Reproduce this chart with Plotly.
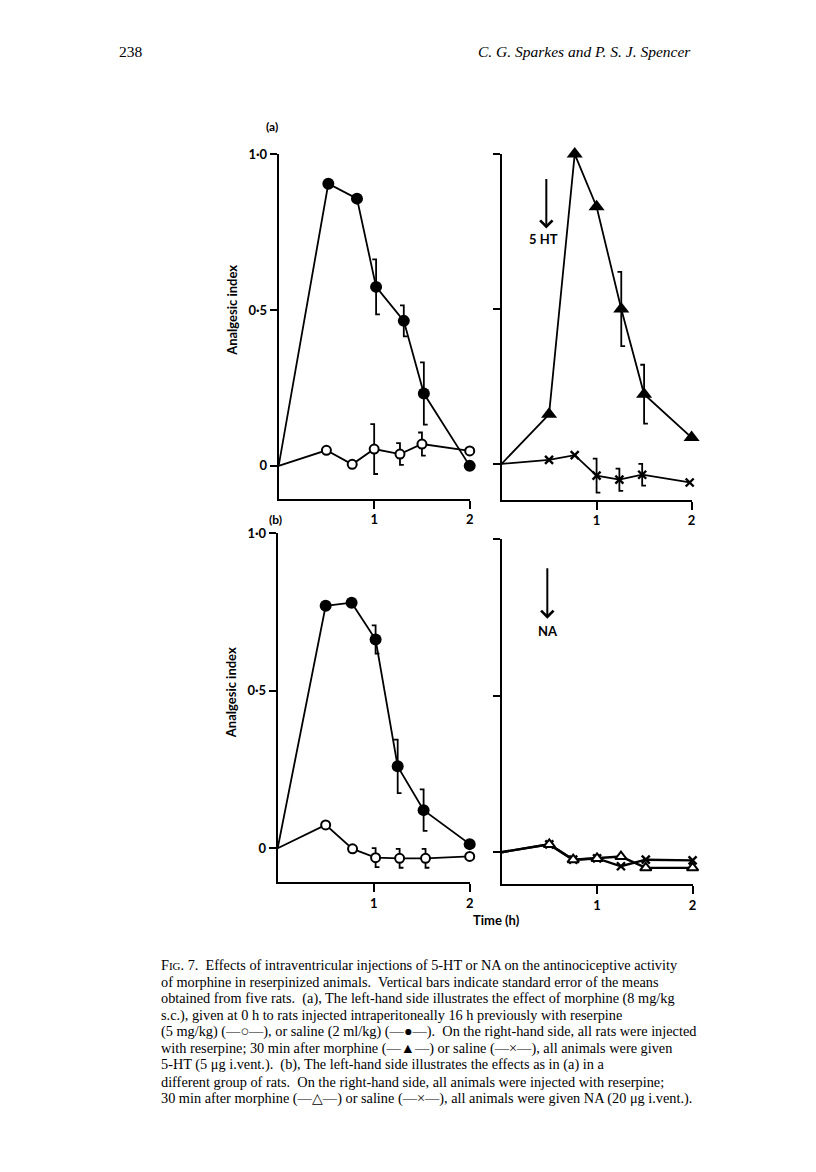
import plotly.graph_objects as go

# ---- data ----
# (a) left: morphine after reserpine (open circles) or saline (filled circles)
t_a_reserpine = [0, 0.5, 0.77, 1.0, 1.27, 1.5, 2.0]
ai_a_reserpine = [0, 0.05, 0.005, 0.054, 0.038, 0.07, 0.048]
se_a_reserpine = [0, 0, 0, 0.08, 0.035, 0.037, 0]

t_a_saline = [0, 0.52, 0.82, 1.02, 1.31, 1.52, 2.0]
ai_a_saline = [0, 0.905, 0.857, 0.574, 0.465, 0.232, 0.0]
se_a_saline = [0, 0, 0, 0.088, 0.05, 0.1, 0]

# (a) right: 5-HT after morphine (filled triangles) or saline (crosses)
t_a_5ht_morph = [0, 0.5, 0.77, 1.0, 1.26, 1.5, 2.0]
ai_a_5ht_morph = [0, 0.16, 1.0, 0.83, 0.5, 0.225, 0.085]
se_a_5ht_morph = [0, 0, 0, 0, 0.12, 0.095, 0]

t_a_5ht_saline = [0, 0.5, 0.77, 1.0, 1.24, 1.48, 1.98]
ai_a_5ht_saline = [0, 0.013, 0.028, -0.038, -0.051, -0.035, -0.06]
se_a_5ht_saline = [0, 0, 0, 0.055, 0.036, 0.035, 0]

# (b) left
t_b_reserpine = [0, 0.5, 0.78, 1.02, 1.27, 1.54, 2.0]
ai_b_reserpine = [0, 0.074, -0.002, -0.03, -0.032, -0.032, -0.026]
se_b_reserpine = [0, 0, 0, 0.03, 0.03, 0.03, 0]

t_b_saline = [0, 0.5, 0.77, 1.02, 1.25, 1.52, 2.0]
ai_b_saline = [0, 0.77, 0.78, 0.663, 0.26, 0.121, 0.013]
se_b_saline = [0, 0, 0, 0.045, 0.085, 0.066, 0]

# (b) right: NA after morphine (open triangles) or saline (crosses)
t_b_na = [0, 0.5, 0.75, 1.0, 1.25, 1.51, 2.0]
ai_b_na_morph = [0, 0.025, -0.024, -0.02, -0.014, -0.05, -0.05]
ai_b_na_saline = [0, 0.025, -0.024, -0.02, -0.045, -0.024, -0.026]

y_ticks = [0, 0.5, 1.0]
y_ticktext = ["0", "0·5", "1·0"]
x_ticks = [1, 2]
x_ticktext = ["1", "2"]

caption = [
    "F<span style='font-size:11px'>IG</span>. 7.  Effects of intraventricular injections of 5-HT or NA on the antinociceptive activity",
    "of morphine in reserpinized animals.  Vertical bars indicate standard error of the means",
    "obtained from five rats.  (a), The left-hand side illustrates the effect of morphine (8 mg/kg",
    "s.c.), given at 0 h to rats injected intraperitoneally 16 h previously with reserpine",
    "(5 mg/kg) (—○—), or saline (2 ml/kg) (—●—).  On the right-hand side, all rats were injected",
    "with reserpine; 30 min after morphine (—▲—) or saline (—×—), all animals were given",
    "5-HT (5 μg i.vent.).  (b), The left-hand side illustrates the effects as in (a) in a",
    "different group of rats.  On the right-hand side, all animals were injected with reserpine;",
    "30 min after morphine (—△—) or saline (—×—), all animals were given NA (20 μg i.vent.).",
]

# page is drawn inside the browser's body margin
OFF_X, OFF_Y = 8, 12
W, H = 816 - OFF_X, 1172 - OFF_Y
SANS = "Lato"
SERIF = "Liberation Serif"


def px(x):
    return (x - OFF_X) / W


def py(y):
    return 1 - (y - OFF_Y) / H


# panel rectangles in pixels: left, right, top(=1.0), bottom, zero line
panels = {
    "a_left": (280, 472, 151, 498, 465),
    "a_right": (504, 695, 151, 499, 463),
    "b_left": (279, 472, 533, 884, 850),
    "b_right": (504, 696, 539, 886, 854),
}

fig = go.Figure()
axis_ids = {}
tick_font = dict(family=SANS, size=13, color="black", weight="bold")
for i, (name, (l, r, top, bot, zero)) in enumerate(panels.items()):
    n = "" if i == 0 else str(i + 1)
    axis_ids[name] = ("x" + n, "y" + n)
    ymin = -(bot - zero) / (zero - top)
    fig.update_layout({
        f"xaxis{n}": dict(
            domain=[px(l), px(r)], range=[0, 2], anchor="y" + n,
            showline=True, linecolor="black", linewidth=2, showgrid=False, zeroline=False,
            ticks="outside", ticklen=8, tickwidth=2, tickcolor="black",
            tickvals=x_ticks, ticktext=x_ticktext, tickfont=tick_font,
        ),
        f"yaxis{n}": dict(
            domain=[py(bot), py(top)], range=[ymin, 1.0], anchor="x" + n,
            showline=True, linecolor="black", linewidth=2, showgrid=False, zeroline=False,
            ticks="outside", ticklen=7, tickwidth=2, tickcolor="black",
            tickvals=y_ticks, ticktext=y_ticktext if "left" in name else ["", "", ""],
            tickfont=tick_font,
        ),
    })

CAP = 0.04


def brackets(panel, t, ai, se):
    xs, ys = [], []
    for x, y, s in zip(t, ai, se):
        if s <= 0:
            continue
        xs += [x - CAP, x, x, None, x, x, x + CAP, None]
        ys += [y + s, y + s, y, None, y, y - s, y - s, None]
    xa, ya = axis_ids[panel]
    fig.add_trace(go.Scatter(x=xs, y=ys, mode="lines", xaxis=xa, yaxis=ya,
                             line=dict(color="black", width=1.8), cliponaxis=False,
                             hoverinfo="skip", showlegend=False))


def series(panel, t, ai, marker):
    xa, ya = axis_ids[panel]
    fig.add_trace(go.Scatter(x=t[1:], y=ai[1:], mode="markers", xaxis=xa, yaxis=ya,
                             marker=marker, cliponaxis=False, showlegend=False))


def line(panel, t, ai, width=1.8):
    xa, ya = axis_ids[panel]
    fig.add_trace(go.Scatter(x=t, y=ai, mode="lines", xaxis=xa, yaxis=ya,
                             line=dict(color="black", width=width), cliponaxis=False,
                             showlegend=False))


filled_circle = dict(symbol="circle", size=12, color="black")
open_circle = dict(symbol="circle", size=9, color="white", line=dict(color="black", width=2))
filled_tri = dict(symbol="triangle-up", size=14, color="black")
open_tri = dict(symbol="triangle-up", size=10, color="white", line=dict(color="black", width=2))
cross = dict(symbol="x-thin", size=8, color="black", line=dict(color="black", width=2.4))

# (a) left
brackets("a_left", t_a_saline, ai_a_saline, se_a_saline)
brackets("a_left", t_a_reserpine, ai_a_reserpine, se_a_reserpine)
line("a_left", t_a_saline, ai_a_saline)
line("a_left", t_a_reserpine, ai_a_reserpine)
series("a_left", t_a_reserpine, ai_a_reserpine, open_circle)
series("a_left", t_a_saline, ai_a_saline, filled_circle)

# (a) right
brackets("a_right", t_a_5ht_morph, ai_a_5ht_morph, se_a_5ht_morph)
brackets("a_right", t_a_5ht_saline, ai_a_5ht_saline, se_a_5ht_saline)
line("a_right", t_a_5ht_morph, ai_a_5ht_morph)
line("a_right", t_a_5ht_saline, ai_a_5ht_saline)
series("a_right", t_a_5ht_morph, ai_a_5ht_morph, filled_tri)
series("a_right", t_a_5ht_saline, ai_a_5ht_saline, cross)

# (b) left
brackets("b_left", t_b_saline, ai_b_saline, se_b_saline)
brackets("b_left", t_b_reserpine, ai_b_reserpine, se_b_reserpine)
line("b_left", t_b_saline, ai_b_saline)
line("b_left", t_b_reserpine, ai_b_reserpine)
series("b_left", t_b_reserpine, ai_b_reserpine, open_circle)
series("b_left", t_b_saline, ai_b_saline, filled_circle)

# (b) right
line("b_right", t_b_na, ai_b_na_saline, 2.4)
line("b_right", t_b_na, ai_b_na_morph, 2.4)
series("b_right", t_b_na, ai_b_na_saline, cross)
series("b_right", t_b_na, ai_b_na_morph, open_tri)

ann = []


def text(x, y, s, size=13, family=SANS, bold=True, xanchor="center", angle=0, italic=False):
    ann.append(dict(x=px(x), y=py(y), xref="paper", yref="paper", text=s, showarrow=False,
                    xanchor=xanchor, yanchor="middle", textangle=angle,
                    font=dict(family=family, size=size, color="black",
                              weight="bold" if bold else "normal",
                              style="italic" if italic else "normal")))


text(273, 123, "(a)", size=12)
text(277, 519, "(b)", size=12)
text(233, 308, "Analgesic index", angle=-90)
text(232, 693, "Analgesic index", angle=-90)
text(499, 922, "Time (h)")
text(546, 237, "5 HT")
text(551, 631, "NA")

# arrows
for x, y0, y1 in [(549, 175, 226), (550, 567, 619)]:
    ann.append(dict(x=px(x), y=py(y1), xref="paper", yref="paper", text="",
                    showarrow=True, ax=0, ay=-(y1 - y0), arrowhead=4, arrowsize=1.2,
                    arrowwidth=2, arrowcolor="black"))

# page header
text(118, 48, "238", size=15.5, family=SERIF, bold=False, xanchor="left")
text(696, 48, "C. G. Sparkes and P. S. J. Spencer", size=15.5, family=SERIF, bold=False,
     xanchor="right", italic=True)

# caption
for i, line_txt in enumerate(caption):
    text(160, 968 + i * 16.7, line_txt, size=14.3, family=SERIF, bold=False, xanchor="left")

fig.update_layout(
    annotations=ann,
    width=W, height=H,
    margin=dict(l=0, r=0, t=0, b=0),
    plot_bgcolor="white", paper_bgcolor="white",
    showlegend=False,
)
fig.write_html("out.html")
